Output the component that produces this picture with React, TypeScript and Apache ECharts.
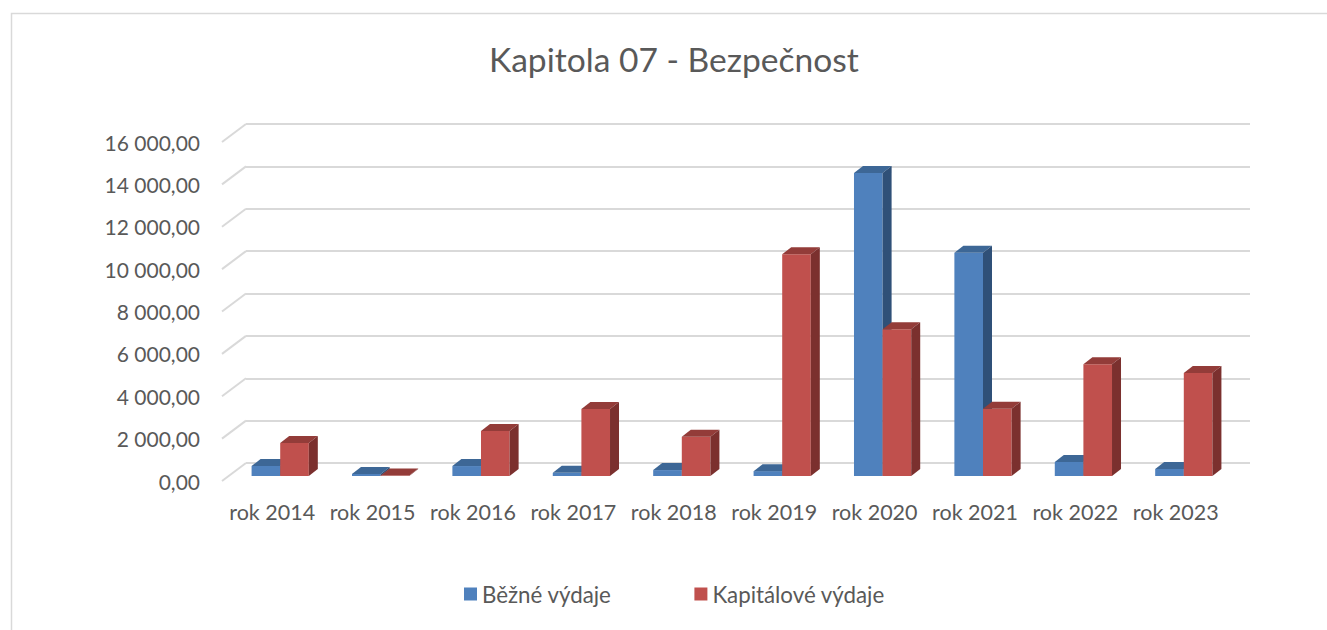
import React, { useEffect, useRef } from "react";
import * as echarts from "echarts";

const categories = ["rok 2014", "rok 2015", "rok 2016", "rok 2017", "rok 2018", "rok 2019", "rok 2020", "rok 2021", "rok 2022", "rok 2023"];
const bezneVydaje = [470, 100, 470, 150, 280, 230, 14300, 10540, 660, 330];
const kapitaloveVydaje = [1560, 20, 2120, 3160, 1850, 10470, 6930, 3170, 5280, 4860];
const yTicks = [0, 2000, 4000, 6000, 8000, 10000, 12000, 14000, 16000];
const seriesNames = ["Běžné výdaje", "Kapitálové výdaje"];

const FONT = "Lato, 'Noto Sans', sans-serif";
const TXT = "#595959";
const GRID = "#d9d9d9";

const palettes = [
  { front: "#4f81bd", top: "#3d6796", side: "#2f5078" },
  { front: "#c0504d", top: "#933c39", side: "#7b302e" },
];

function fmt(v: number) {
  const s = Math.round(v).toString().replace(/\B(?=(\d{3})+(?!\d))/g, " ");
  return s + ",00";
}

function barRenderer(s: number) {
  return (params: any, api: any) => {
    const idx = api.value(0);
    const val = api.value(1);
    const base = api.coord([idx, 0]);
    const top = api.coord([idx, val]);
    const bw = api.size([1, 0])[0] * 0.285;
    const cx = base[0] + 8;
    const x0 = s === 0 ? cx - bw : cx;
    const x1 = x0 + bw;
    const yb = base[1] - 5;
    const yt = top[1] - 5;
    const DX = 9;
    const DY = -7;
    const p = palettes[s];
    return {
      type: "group",
      children: [
        { type: "rect", shape: { x: x0, y: yt, width: bw, height: Math.max(0, yb - yt) }, style: { fill: p.front } },
        { type: "polygon", shape: { points: [[x0, yt], [x0 + DX, yt + DY], [x1 + DX, yt + DY], [x1, yt]] }, style: { fill: p.top } },
        { type: "polygon", shape: { points: [[x1, yt], [x1 + DX, yt + DY], [x1 + DX, yb + DY], [x1, yb]] }, style: { fill: p.side } },
      ],
    };
  };
}

export default function App() {
  const ref = useRef<HTMLDivElement>(null);
  useEffect(() => {
    if (!ref.current) return;
    const chart = echarts.init(ref.current, null, { renderer: "svg" });
    chart.setOption({
      animation: false,
      backgroundColor: "#ffffff",
      color: [palettes[0].front, palettes[1].front],
      title: {
        text: "Kapitola 07 - Bezpečnost",
        left: 484,
        top: 37,
        textStyle: { fontFamily: FONT, fontSize: 33.6, fontWeight: "normal", color: TXT },
      },
      legend: {
        data: seriesNames,
        bottom: 20,
        left: 459,
        icon: "rect",
        itemWidth: 13,
        itemHeight: 13,
        itemGap: 83,
        textStyle: { fontFamily: FONT, fontSize: 22.3, color: TXT },
      },
      graphic: [
        {
          type: "rect",
          shape: { x: 11.5, y: 13.5, width: 1400, height: 700 },
          style: { fill: "none", stroke: GRID, lineWidth: 1.5 },
          silent: true,
        },
      ],
      grid: [
        { left: 222, right: 101, top: 142, bottom: 149 },
        { left: 246, right: 77, top: 124, bottom: 167 },
      ],
      xAxis: [
        {
          type: "category",
          gridIndex: 0,
          data: categories,
          axisLine: { show: false },
          axisTick: { show: false },
          axisLabel: { fontFamily: FONT, fontSize: 21.5, color: TXT, margin: 20, interval: 0 },
        },
        {
          type: "category",
          gridIndex: 1,
          data: categories,
          show: false,
        },
      ],
      yAxis: [
        {
          type: "value",
          gridIndex: 0,
          min: 0,
          max: 16000,
          interval: 2000,
          axisLine: { show: false },
          axisTick: { show: false },
          splitLine: { show: false },
          axisLabel: { fontFamily: FONT, fontSize: 21, color: TXT, margin: 22, formatter: (v: number) => fmt(v) },
        },
        {
          type: "value",
          gridIndex: 1,
          min: 0,
          max: 16000,
          interval: 2000,
          axisLine: { show: false },
          axisTick: { show: false },
          axisLabel: { show: false },
          splitLine: { show: true, lineStyle: { color: GRID, width: 2 } },
        },
      ],
      series: [
        {
          type: "custom",
          name: "ticks",
          xAxisIndex: 0,
          yAxisIndex: 0,
          silent: true,
          renderItem: (params: any, api: any) => {
            const v = api.value(1);
            const p = api.coord([0, v]);
            const x = params.coordSys.x;
            return {
              type: "line",
              shape: { x1: x, y1: p[1], x2: x + 24, y2: p[1] - 18 },
              style: { stroke: GRID, lineWidth: 2 },
            };
          },
          data: yTicks.map((v) => [0, v]),
          z: 1,
        },
        {
          type: "custom",
          name: seriesNames[0],
          xAxisIndex: 0,
          yAxisIndex: 0,
          itemStyle: { color: palettes[0].front },
          renderItem: barRenderer(0),
          encode: { x: 0, y: 1 },
          data: bezneVydaje.map((v, i) => [i, v]),
          z: 3,
        },
        {
          type: "custom",
          name: seriesNames[1],
          xAxisIndex: 0,
          yAxisIndex: 0,
          itemStyle: { color: palettes[1].front },
          renderItem: barRenderer(1),
          encode: { x: 0, y: 1 },
          data: kapitaloveVydaje.map((v, i) => [i, v]),
          z: 4,
        },
      ],
    });
    return () => chart.dispose();
  }, []);
  return <div ref={ref} style={{ position: "fixed", left: 0, top: 0, width: 1327, height: 630 }} />;
}
